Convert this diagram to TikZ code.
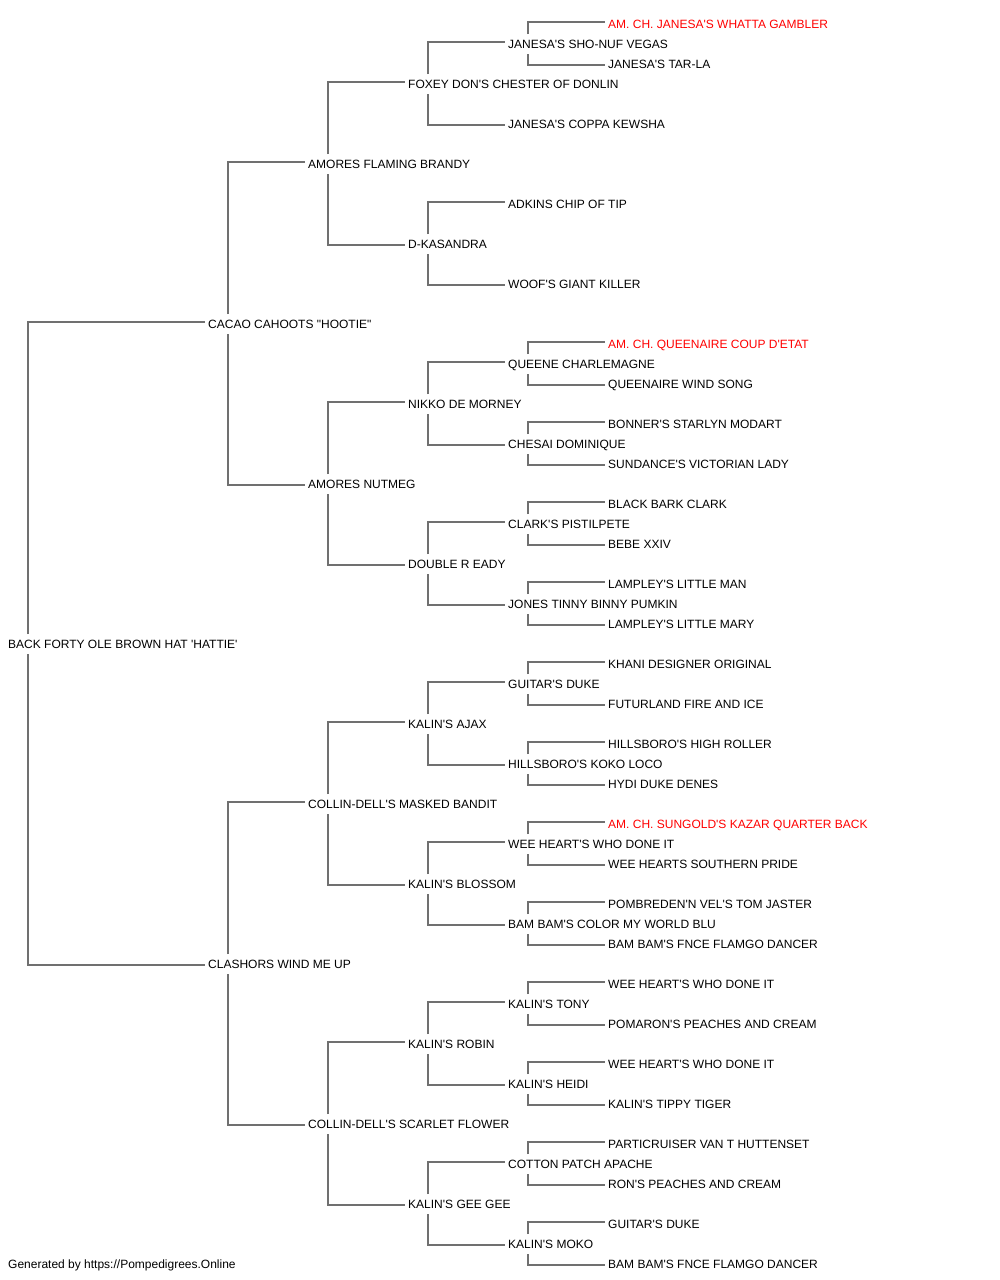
\documentclass[tikz,border=0pt]{standalone}
\usepackage{fontspec}
\setmainfont{Liberation Sans}[Ligatures=TeXOff]
\definecolor{lineclr}{RGB}{112,112,112}
\definecolor{champ}{RGB}{255,0,0}
\newcommand\sirelink[2]{\draw[conn] ([shift={(20pt,10pt)}]#1.west) |- ([shift={(-3pt,2pt)}]#2.west);}
\newcommand\damlink[2]{\draw[conn] ([shift={(20pt,-10pt)}]#1.west) |- ([shift={(-3pt,-1pt)}]#2.west);}
\begin{document}
\begin{tikzpicture}[x=1pt,y=-1pt,
  dog/.style={anchor=west,inner sep=0pt,text height=8pt,text depth=0pt,font=\fontsize{12}{14}\selectfont},
  red dog/.style={dog,text=champ},
  conn/.style={draw=lineclr,line width=1.4pt}]
\fill[white] (0,0) rectangle (1000,1280);
\useasboundingbox (0,0) rectangle (1000,1280);
% generation 0
\node[dog] (a) at (8,644) {BACK FORTY OLE BROWN HAT 'HATTIE'};
% generation 1
\node[dog] (b1) at (208,324) {CACAO CAHOOTS "HOOTIE"};
\node[dog] (b2) at (208,964) {CLASHORS WIND ME UP};
% generation 2
\node[dog] (c1) at (308,164) {AMORES FLAMING BRANDY};
\node[dog] (c2) at (308,484) {AMORES NUTMEG};
\node[dog] (c3) at (308,804) {COLLIN-DELL'S MASKED BANDIT};
\node[dog] (c4) at (308,1124) {COLLIN-DELL'S SCARLET FLOWER};
% generation 3
\node[dog] (d1) at (408,84) {FOXEY DON'S CHESTER OF DONLIN};
\node[dog] (d2) at (408,244) {D-KASANDRA};
\node[dog] (d3) at (408,404) {NIKKO DE MORNEY};
\node[dog] (d4) at (408,564) {DOUBLE R EADY};
\node[dog] (d5) at (408,724) {KALIN'S AJAX};
\node[dog] (d6) at (408,884) {KALIN'S BLOSSOM};
\node[dog] (d7) at (408,1044) {KALIN'S ROBIN};
\node[dog] (d8) at (408,1204) {KALIN'S GEE GEE};
% generation 4
\node[dog] (e1) at (508,44) {JANESA'S SHO-NUF VEGAS};
\node[dog] (e2) at (508,124) {JANESA'S COPPA KEWSHA};
\node[dog] (e3) at (508,204) {ADKINS CHIP OF TIP};
\node[dog] (e4) at (508,284) {WOOF'S GIANT KILLER};
\node[dog] (e5) at (508,364) {QUEENE CHARLEMAGNE};
\node[dog] (e6) at (508,444) {CHESAI DOMINIQUE};
\node[dog] (e7) at (508,524) {CLARK'S PISTILPETE};
\node[dog] (e8) at (508,604) {JONES TINNY BINNY PUMKIN};
\node[dog] (e9) at (508,684) {GUITAR'S DUKE};
\node[dog] (e10) at (508,764) {HILLSBORO'S KOKO LOCO};
\node[dog] (e11) at (508,844) {WEE HEART'S WHO DONE IT};
\node[dog] (e12) at (508,924) {BAM BAM'S COLOR MY WORLD BLU};
\node[dog] (e13) at (508,1004) {KALIN'S TONY};
\node[dog] (e14) at (508,1084) {KALIN'S HEIDI};
\node[dog] (e15) at (508,1164) {COTTON PATCH APACHE};
\node[dog] (e16) at (508,1244) {KALIN'S MOKO};
% generation 5
\node[red dog] (f1) at (608,24) {AM. CH. JANESA'S WHATTA GAMBLER};
\node[dog] (f2) at (608,64) {JANESA'S TAR-LA};
\node[red dog] (f5) at (608,344) {AM. CH. QUEENAIRE COUP D'ETAT};
\node[dog] (f6) at (608,384) {QUEENAIRE WIND SONG};
\node[dog] (f7) at (608,424) {BONNER'S STARLYN MODART};
\node[dog] (f8) at (608,464) {SUNDANCE'S VICTORIAN LADY};
\node[dog] (f9) at (608,504) {BLACK BARK CLARK};
\node[dog] (f10) at (608,544) {BEBE XXIV};
\node[dog] (f11) at (608,584) {LAMPLEY'S LITTLE MAN};
\node[dog] (f12) at (608,624) {LAMPLEY'S LITTLE MARY};
\node[dog] (f13) at (608,664) {KHANI DESIGNER ORIGINAL};
\node[dog] (f14) at (608,704) {FUTURLAND FIRE AND ICE};
\node[dog] (f15) at (608,744) {HILLSBORO'S HIGH ROLLER};
\node[dog] (f16) at (608,784) {HYDI DUKE DENES};
\node[red dog] (f17) at (608,824) {AM. CH. SUNGOLD'S KAZAR QUARTER BACK};
\node[dog] (f18) at (608,864) {WEE HEARTS SOUTHERN PRIDE};
\node[dog] (f19) at (608,904) {POMBREDEN'N VEL'S TOM JASTER};
\node[dog] (f20) at (608,944) {BAM BAM'S FNCE FLAMGO DANCER};
\node[dog] (f21) at (608,984) {WEE HEART'S WHO DONE IT};
\node[dog] (f22) at (608,1024) {POMARON'S PEACHES AND CREAM};
\node[dog] (f23) at (608,1064) {WEE HEART'S WHO DONE IT};
\node[dog] (f24) at (608,1104) {KALIN'S TIPPY TIGER};
\node[dog] (f25) at (608,1144) {PARTICRUISER VAN T HUTTENSET};
\node[dog] (f26) at (608,1184) {RON'S PEACHES AND CREAM};
\node[dog] (f27) at (608,1224) {GUITAR'S DUKE};
\node[dog] (f28) at (608,1264) {BAM BAM'S FNCE FLAMGO DANCER};
% footer
\node[dog] (foot) at (8,1264) {Generated by https://Pompedigrees.Online};
% connectors
\sirelink{a}{b1} \damlink{a}{b2}
\sirelink{b1}{c1} \damlink{b1}{c2}
\sirelink{b2}{c3} \damlink{b2}{c4}
\sirelink{c1}{d1} \damlink{c1}{d2}
\sirelink{c2}{d3} \damlink{c2}{d4}
\sirelink{c3}{d5} \damlink{c3}{d6}
\sirelink{c4}{d7} \damlink{c4}{d8}
\sirelink{d1}{e1} \damlink{d1}{e2}
\sirelink{d2}{e3} \damlink{d2}{e4}
\sirelink{d3}{e5} \damlink{d3}{e6}
\sirelink{d4}{e7} \damlink{d4}{e8}
\sirelink{d5}{e9} \damlink{d5}{e10}
\sirelink{d6}{e11} \damlink{d6}{e12}
\sirelink{d7}{e13} \damlink{d7}{e14}
\sirelink{d8}{e15} \damlink{d8}{e16}
\sirelink{e1}{f1} \damlink{e1}{f2}
\sirelink{e5}{f5} \damlink{e5}{f6}
\sirelink{e6}{f7} \damlink{e6}{f8}
\sirelink{e7}{f9} \damlink{e7}{f10}
\sirelink{e8}{f11} \damlink{e8}{f12}
\sirelink{e9}{f13} \damlink{e9}{f14}
\sirelink{e10}{f15} \damlink{e10}{f16}
\sirelink{e11}{f17} \damlink{e11}{f18}
\sirelink{e12}{f19} \damlink{e12}{f20}
\sirelink{e13}{f21} \damlink{e13}{f22}
\sirelink{e14}{f23} \damlink{e14}{f24}
\sirelink{e15}{f25} \damlink{e15}{f26}
\sirelink{e16}{f27} \damlink{e16}{f28}
\end{tikzpicture}
\end{document}
